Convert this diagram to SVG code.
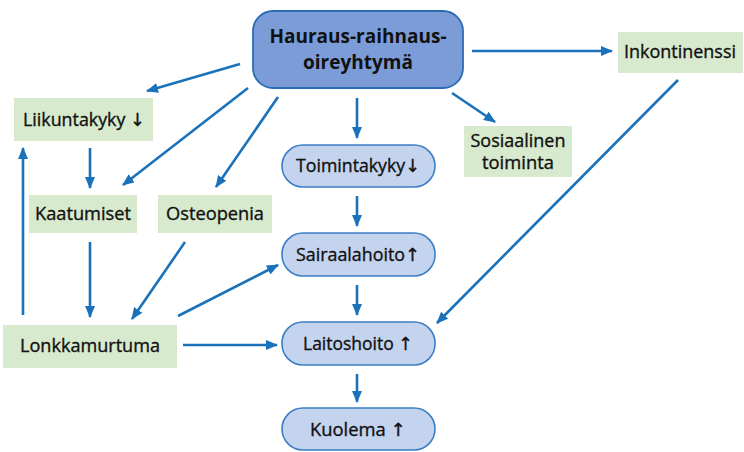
<svg xmlns="http://www.w3.org/2000/svg" width="744" height="452" viewBox="0 0 744 452">
<defs>
<marker id="ah" markerWidth="12" markerHeight="10" refX="11" refY="5" orient="auto" markerUnits="userSpaceOnUse">
<path d="M0,0 L12,5 L0,10 Z" fill="#1a72bb"/>
</marker>
<style>
.g{fill:#d8eacd;stroke:none}
.b{fill:#c4d3ee;stroke:#3b7ec4;stroke-width:1.6}
.m{fill:#7b9cd6;stroke:#2a6db5;stroke-width:1.8}
.t{font-family:"Open Sans","DejaVu Sans",sans-serif;font-size:18px;fill:#111;stroke:#111;stroke-width:0.35;text-anchor:middle}
.tb{font-family:"Open Sans","Noto Sans",sans-serif;font-size:19px;font-weight:bold;fill:#111;text-anchor:middle}
.c line{stroke:#1a72bb;stroke-width:2.6;marker-end:url(#ah)}
</style>
</defs>
<rect width="744" height="452" fill="#fff"/>
<g id="main"><rect class="m" x="253" y="11" width="210" height="77" rx="20"/><text class="tb" x="358" y="43">Hauraus-raihnaus-</text><text class="tb" x="358" y="69">oireyhtymä</text></g>
<g id="liikuntakyky"><rect class="g" x="14" y="98" width="139" height="43"/><text class="t" x="84" y="126" textLength="122" lengthAdjust="spacingAndGlyphs">Liikuntakyky ↓</text></g>
<g id="kaatumiset"><rect class="g" x="29" y="195" width="108" height="38"/><text class="t" x="83" y="220" textLength="96" lengthAdjust="spacingAndGlyphs">Kaatumiset</text></g>
<g id="osteopenia"><rect class="g" x="158" y="195" width="114" height="38"/><text class="t" x="215" y="220" textLength="98" lengthAdjust="spacingAndGlyphs">Osteopenia</text></g>
<g id="lonkkamurtuma"><rect class="g" x="3" y="325" width="174" height="43"/><text class="t" x="90" y="352" textLength="140" lengthAdjust="spacingAndGlyphs">Lonkkamurtuma</text></g>
<g id="inkontinenssi"><rect class="g" x="618" y="32" width="125" height="41"/><text class="t" x="680" y="58" textLength="112" lengthAdjust="spacingAndGlyphs">Inkontinenssi</text></g>
<g id="sosiaalinen"><rect class="g" x="464" y="126" width="108" height="51"/><text class="t" x="518" y="147" textLength="95" lengthAdjust="spacingAndGlyphs">Sosiaalinen</text><text class="t" x="518" y="169" textLength="72" lengthAdjust="spacingAndGlyphs">toiminta</text></g>
<g id="toimintakyky"><rect class="b" x="282" y="145" width="153" height="42" rx="21"/><text class="t" x="358" y="172" textLength="124" lengthAdjust="spacingAndGlyphs">Toimintakyky↓</text></g>
<g id="sairaalahoito"><rect class="b" x="282" y="233" width="153" height="43" rx="21"/><text class="t" x="358" y="261" textLength="124" lengthAdjust="spacingAndGlyphs">Sairaalahoito↑</text></g>
<g id="laitoshoito"><rect class="b" x="282" y="322" width="153" height="43" rx="21"/><text class="t" x="358" y="350" textLength="110" lengthAdjust="spacingAndGlyphs">Laitoshoito ↑</text></g>
<g id="kuolema"><rect class="b" x="282" y="408" width="153" height="42" rx="21"/><text class="t" x="358" y="436" textLength="96" lengthAdjust="spacingAndGlyphs">Kuolema ↑</text></g>
<g class="c" id="connectors">
<line x1="240" y1="64" x2="147" y2="91"/>
<line x1="248" y1="88" x2="123" y2="185"/>
<line x1="278" y1="97" x2="216" y2="187"/>
<line x1="357" y1="98" x2="357" y2="138"/>
<line x1="452" y1="93" x2="495" y2="122"/>
<line x1="472" y1="51" x2="612" y2="51"/>
<line x1="678" y1="80" x2="437" y2="323"/>
<line x1="90" y1="148" x2="90" y2="188"/>
<line x1="90" y1="242" x2="90" y2="317"/>
<line x1="185" y1="242" x2="132" y2="319"/>
<line x1="23" y1="315" x2="23" y2="148"/>
<line x1="178" y1="316" x2="278" y2="265"/>
<line x1="183" y1="345" x2="277" y2="345"/>
<line x1="357" y1="196" x2="357" y2="226"/>
<line x1="357" y1="285" x2="357" y2="315"/>
<line x1="357" y1="374" x2="357" y2="402"/>
</g>
</svg>
